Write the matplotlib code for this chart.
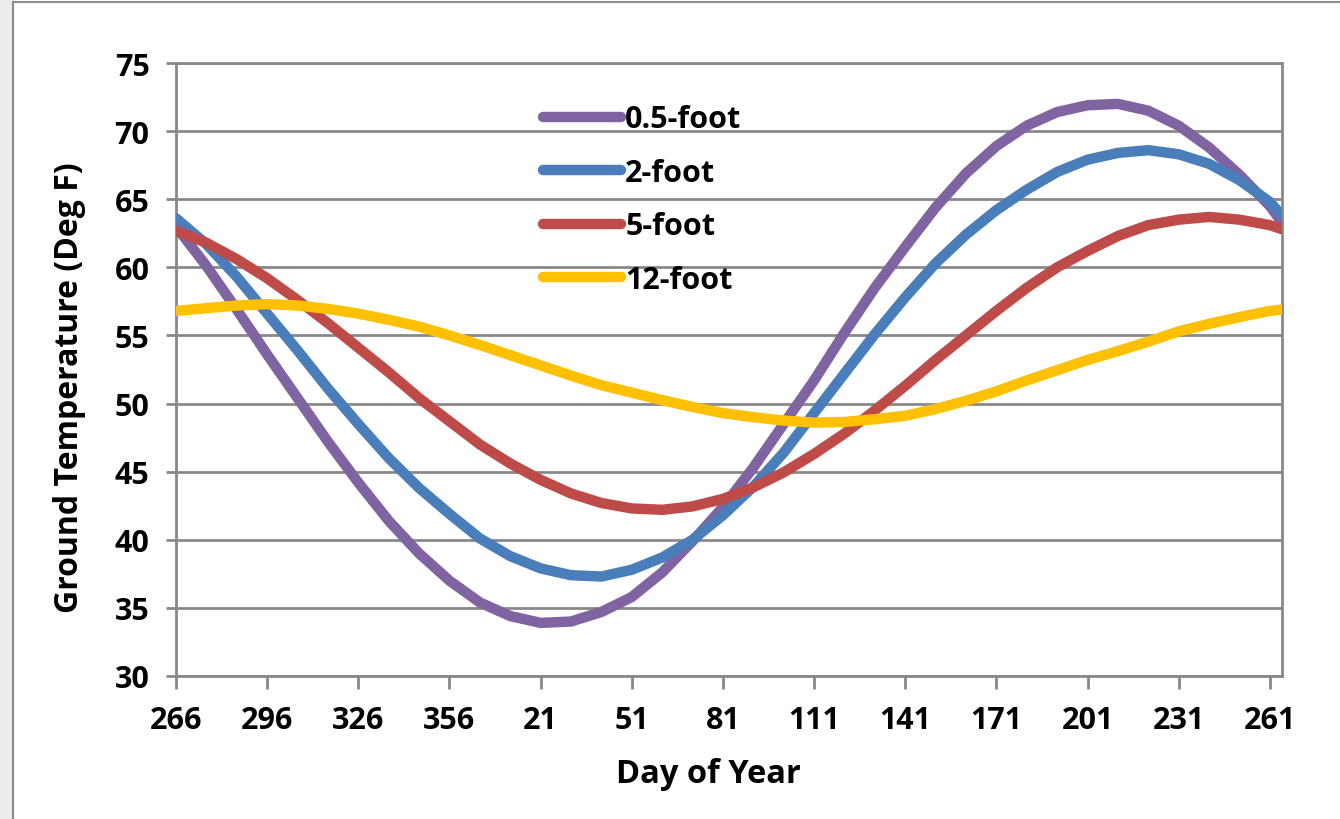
import matplotlib
matplotlib.use("Agg")
import matplotlib.pyplot as plt
from matplotlib.patches import Rectangle
from matplotlib.lines import Line2D

# day index counted from day 266 (read every 10 days, plus the last day)
day_index = [0, 10, 20, 30, 40, 50, 60, 70, 80, 90, 100, 110, 120, 130, 140, 150, 160, 170, 180,
             190, 200, 210, 220, 230, 240, 250, 260, 270, 280, 290, 300, 310, 320, 330, 340,
             350, 360, 364]

temp_05ft = [63.0, 60.1, 56.9, 53.6, 50.4, 47.2, 44.2, 41.4, 39.0, 37.0, 35.4, 34.4, 33.9, 34.0,
             34.7, 35.8, 37.6, 39.9, 42.4, 45.3, 48.5, 51.7, 55.2, 58.5, 61.5, 64.4, 66.9, 68.9,
             70.4, 71.4, 71.9, 72.0, 71.5, 70.4, 68.8, 66.8, 64.5, 63.3]
temp_2ft = [63.6, 61.7, 59.3, 56.6, 53.9, 51.1, 48.5, 46.0, 43.8, 41.9, 40.1, 38.8, 37.9, 37.4,
            37.3, 37.8, 38.7, 40.0, 41.8, 43.9, 46.4, 49.3, 52.2, 55.1, 57.8, 60.3, 62.4, 64.2,
            65.7, 67.0, 67.9, 68.4, 68.6, 68.3, 67.6, 66.4, 64.8, 63.8]
temp_5ft = [62.7, 61.8, 60.6, 59.2, 57.6, 55.9, 54.1, 52.3, 50.4, 48.7, 47.0, 45.6, 44.4, 43.4,
            42.7, 42.3, 42.2, 42.45, 43.0, 43.85, 44.95, 46.3, 47.8, 49.5, 51.3, 53.2, 55.0, 56.8,
            58.5, 60.0, 61.2, 62.3, 63.1, 63.5, 63.7, 63.5, 63.1, 62.8]
temp_12ft = [56.8, 57.0, 57.2, 57.3, 57.2, 56.95, 56.6, 56.15, 55.65, 55.0, 54.3, 53.55, 52.8,
             52.05, 51.35, 50.8, 50.25, 49.75, 49.3, 49.0, 48.75, 48.6, 48.65, 48.85, 49.1, 49.6,
             50.2, 50.9, 51.7, 52.45, 53.2, 53.85, 54.55, 55.3, 55.85, 56.35, 56.8, 56.9]

tick_pos = [0, 30, 60, 90, 120, 150, 180, 210, 240, 270, 300, 330, 360]
tick_labels = ['266', '296', '326', '356', '21', '51', '81', '111', '141', '171', '201', '231', '261']

series_names = ['0.5-foot', '2-foot', '5-foot', '12-foot']
series_colors = ['#8064A2', '#4A7EBB', '#BE4B48', '#FFC000']

plt.rcParams['font.family'] = ['Open Sans', 'DejaVu Sans']
plt.rcParams['font.weight'] = 'bold'

fig = plt.figure(figsize=(13.4, 8.2), dpi=100)
ax = fig.add_axes([176 / 1340, 1 - 677 / 820, (1282 - 176) / 1340, (677 - 64) / 820])

grid_col = '#898989'
for s, c, name in zip([temp_05ft, temp_2ft, temp_5ft, temp_12ft], series_colors, series_names):
    ax.plot(day_index, s, color=c, lw=7.5, label=name, solid_capstyle='round',
            solid_joinstyle='round', zorder=3)

ax.set_xlim(0, 364)
ax.set_ylim(30, 75)
ax.set_yticks(range(30, 80, 5))
ax.set_xticks(tick_pos)
ax.set_xticklabels(tick_labels)
ax.yaxis.grid(True, color=grid_col, lw=2)
ax.set_axisbelow(True)

for sp in ax.spines.values():
    sp.set_color(grid_col)
    sp.set_linewidth(2)

ax.tick_params(axis='y', length=7, width=2, color=grid_col, labelsize=22, pad=12)
ax.tick_params(axis='x', length=9, width=2, color=grid_col, labelsize=22, pad=12)
for lab in ax.get_xticklabels() + ax.get_yticklabels():
    lab.set_fontweight('bold')

fig.text(708 / 1340, 1 - 775 / 820, 'Day of Year', ha='center', va='center',
         fontsize=23.5, fontweight='bold')
fig.text(70 / 1340, 1 - 388 / 820, 'Ground Temperature (Deg F)', ha='center', va='center',
         rotation=90, fontsize=23, fontweight='bold')

ax.legend(loc='upper left', bbox_to_anchor=(528 / 1340, 1 - 90 / 820),
          bbox_transform=fig.transFigure, frameon=False,
          handlelength=2.55, handletextpad=0.13, labelspacing=0.77, borderpad=0,
          prop={'weight': 'bold', 'size': 22})

# chart frame like the spreadsheet window edge
fig.patches.append(Rectangle((0, 0), 13 / 1340, 1, transform=fig.transFigure,
                             facecolor='#ececec', edgecolor='none', zorder=0))
fig.lines.append(Line2D([13 / 1340, 13 / 1340], [0, 1 - 3 / 820], transform=fig.transFigure,
                        color='#8c8c8c', lw=1.5))
fig.lines.append(Line2D([13 / 1340, 1], [1 - 3 / 820, 1 - 3 / 820], transform=fig.transFigure,
                        color='#8c8c8c', lw=1.5))

fig.savefig('out.png', dpi=100)
